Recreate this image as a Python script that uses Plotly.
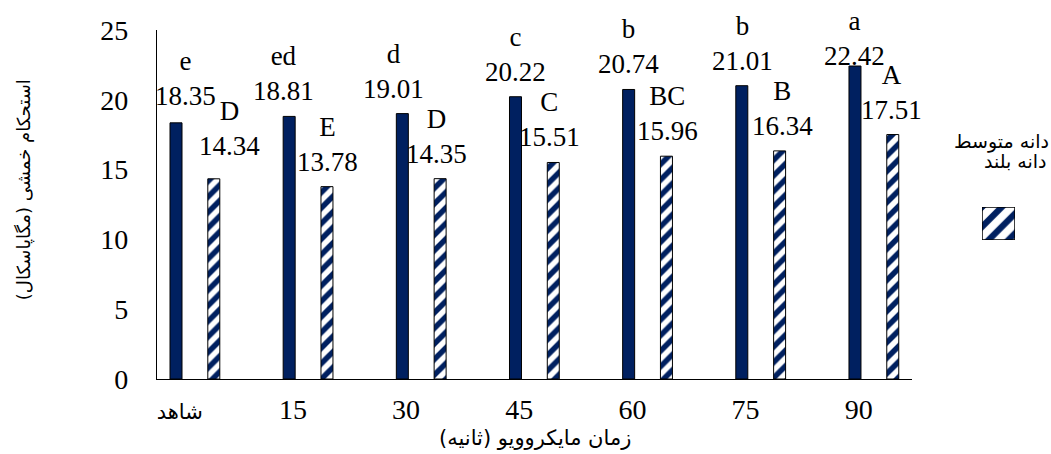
import plotly.graph_objects as go

# ---- data ----
categories = ["شاهد", "15", "30", "45", "60", "75", "90"]
medium_vals = [18.35, 18.81, 19.01, 20.22, 20.74, 21.01, 22.42]
long_vals = [14.34, 13.78, 14.35, 15.51, 15.96, 16.34, 17.51]
medium_letters = ["e", "ed", "d", "c", "b", "b", "a"]
long_letters = ["D", "E", "D", "C", "BC", "B", "A"]
series_names = ["دانه متوسط", "دانه بلند"]
y_title = "استحکام خمشی (مگاپاسکال)"
x_title = "زمان مایکروویو (ثانیه)"
y_ticks = [0, 5, 10, 15, 20, 25]

# ---- layout helpers (pixel tweaks for label placement) ----
med_dx = [9, -6, -9, 0, 0, 1, 0]
med_dy = [2, 0, 0, 0, 0, 0, -15]
long_dx = [16, 1, -4, -4, 1, 3, -1]
long_dy = [8, 0, 0, 0, 0, 0, 0]

NAVY = "#002060"
SERIF = "Times New Roman, Liberation Serif, Tinos, DejaVu Serif, serif"
ARAB = "DejaVu Sans"
BW = 0.106
SHIFT = 0.334

idx = list(range(len(categories)))

hatch = dict(shape="/", fgcolor=NAVY, bgcolor="white", fgopacity=1,
             size=11, solidity=0.5, fillmode="overlay")

fig = go.Figure()
fig.add_trace(go.Bar(
    x=idx, y=medium_vals, name=series_names[0], width=BW, offset=-BW / 2,
    marker=dict(color=NAVY, line=dict(color="black", width=1)),
    showlegend=False,
))
fig.add_trace(go.Bar(
    x=idx, y=long_vals, name=series_names[1], width=BW, offset=SHIFT - BW / 2,
    marker=dict(color="white", line=dict(color="black", width=1), pattern=hatch),
    showlegend=False,
))

# legend swatch on an auxiliary axis
fig.add_trace(go.Bar(
    x=[0], y=[1], width=1, xaxis="x2", yaxis="y2", showlegend=False,
    marker=dict(color="white", line=dict(color="black", width=1.5),
                pattern=dict(hatch, size=14, solidity=0.45)),
    hoverinfo="skip",
))

annotations = []
for i in idx:
    annotations.append(dict(
        x=i, y=medium_vals[i], xref="x", yref="y",
        text=f"{medium_letters[i]}<br>{medium_vals[i]:.2f}",
        showarrow=False, yanchor="bottom", xanchor="center",
        xshift=med_dx[i], yshift=8 + med_dy[i],
        font=dict(family=SERIF, size=27, color="black"),
    ))
    annotations.append(dict(
        x=i + SHIFT, y=long_vals[i], xref="x", yref="y",
        text=f"{long_letters[i]}<br>{long_vals[i]:.2f}",
        showarrow=False, yanchor="bottom", xanchor="center",
        xshift=long_dx[i], yshift=8 + long_dy[i],
        font=dict(family=SERIF, size=27, color="black"),
    ))

# axis titles
annotations.append(dict(
    x=-0.152, y=0.5415, xref="paper", yref="paper", text=y_title,
    textangle=-90, showarrow=False, xanchor="center", yanchor="middle",
    font=dict(family=ARAB, size=18, color="black"),
))
annotations.append(dict(
    x=(535 - 157) / 874, y=(379 - 438) / 349, xref="paper", yref="paper", text=x_title,
    showarrow=False, xanchor="center", yanchor="middle",
    font=dict(family=ARAB, size=21, color="black"),
))
# legend texts
annotations.append(dict(
    x=(1051 - 157) / 874, y=(379 - 141) / 349, xref="paper", yref="paper", text=series_names[0],
    showarrow=False, xanchor="right", yanchor="middle",
    font=dict(family=ARAB, size=19, color="black"),
))
annotations.append(dict(
    x=(1049 - 157) / 874, y=(379 - 161) / 349, xref="paper", yref="paper", text=series_names[1],
    showarrow=False, xanchor="right", yanchor="middle",
    font=dict(family=ARAB, size=19, color="black"),
))

tick_text = [f'<span style="font-family:DejaVu Sans;font-size:21px">{c}</span>' if not c.isdigit() else c
             for c in categories]

fig.update_layout(
    width=1051, height=454,
    margin=dict(l=157, r=20, t=30, b=75, pad=0),
    paper_bgcolor="white", plot_bgcolor="white",
    barmode="overlay",
    font=dict(family=SERIF),
    xaxis=dict(
        domain=[0, 755 / 874], range=[-0.168, 6.504],
        tickmode="array", tickvals=[i + 0.033 for i in idx], ticktext=tick_text,
        showgrid=False, zeroline=False, showline=True, linecolor="black", linewidth=1.3,
        ticks="", ticklabelstandoff=5,
        tickfont=dict(family=SERIF, size=28, color="black"),
    ),
    yaxis=dict(
        range=[0, 25], tickmode="array", tickvals=y_ticks,
        showgrid=False, zeroline=False, showline=True, linecolor="black", linewidth=1.3,
        ticks="", ticklabelstandoff=22,
        tickfont=dict(family=SERIF, size=28, color="black"),
    ),
    xaxis2=dict(domain=[(982 - 157) / 874, (1015 - 157) / 874], range=[-0.5, 0.5],
                visible=False, anchor="y2"),
    yaxis2=dict(domain=[(379 - 240) / 349, (379 - 207) / 349], range=[0, 1],
                visible=False, anchor="x2"),
    annotations=annotations,
    showlegend=False,
)

fig.write_html("out.html")
